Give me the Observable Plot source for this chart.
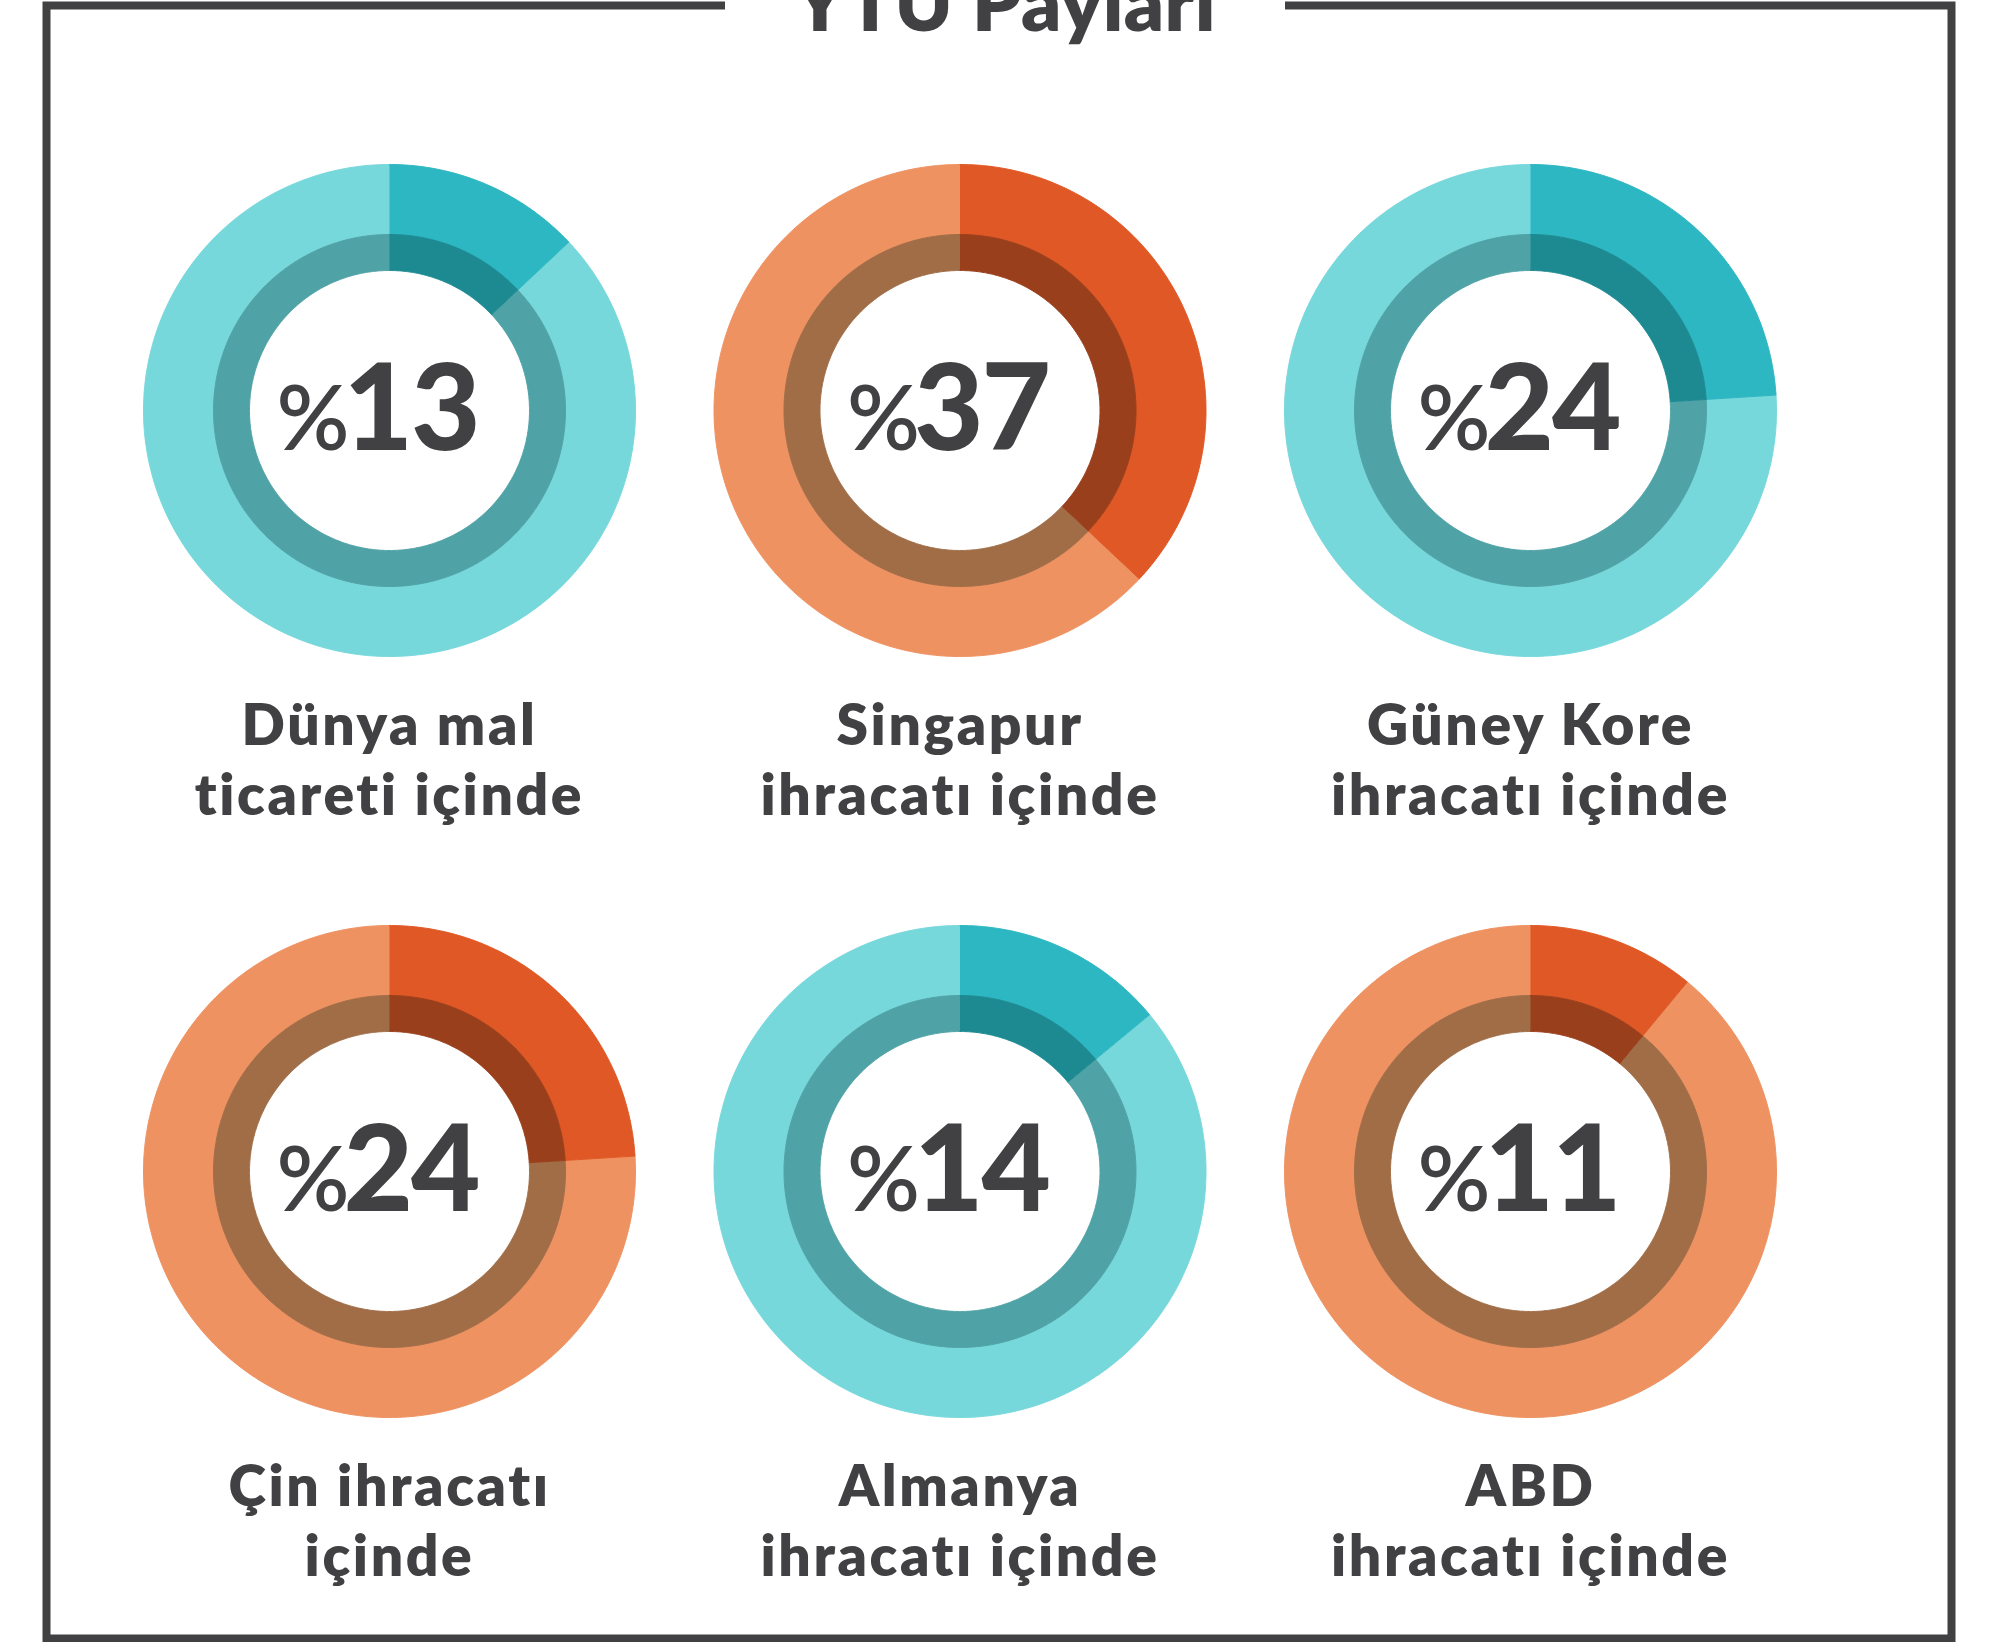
<!DOCTYPE html>
<html><head><meta charset="utf-8">
<script src="https://cdn.jsdelivr.net/npm/d3@7"></script>
<script src="https://cdn.jsdelivr.net/npm/@observablehq/plot@0.6"></script>
<style>
html,body{margin:0;padding:0;background:#fff;}
#wrap{position:relative;width:2008px;height:1642px;overflow:hidden;}
#chart{position:absolute;left:0;top:0;}
#title{position:absolute;left:725px;width:560px;top:-38px;height:78px;background:#fff;text-align:center;
  font-family:Lato,"Noto Sans",sans-serif;font-weight:800;font-size:78px;line-height:78px;color:#414143;
  letter-spacing:0.5px;white-space:nowrap;}
</style></head>
<body><div id="wrap"><div id="chart"></div><div id="title"></div></div>
<script>
// ---- data ----
const title = "YTÜ Payları";
const categories = [
  "Dünya mal\nticareti içinde",
  "Singapur\nihracatı içinde",
  "Güney Kore\nihracatı içinde",
  "Çin ihracatı\niçinde",
  "Almanya\nihracatı içinde",
  "ABD\nihracatı içinde"
];
const shares = [13, 37, 24, 24, 14, 11];

// ---- layout & style ----
const W = 2008, H = 1642;
const L = {x0: 389, y0: 410, colStep: 570.5, rowStep: 761, rOuter: 246, rMid: 176, rInner: 140};
const ink = "#414143";
const schemes = [
  {lightOuter: "#77d8dc", darkOuter: "#2db7c2", lightMid: "#4fa2a6", darkMid: "#1d8a92"},
  {lightOuter: "#ef9262", darkOuter: "#e05825", lightMid: "#a06d47", darkMid: "#9a3f1b"}
];

document.getElementById("title").textContent = title;

const items = shares.map((v, i) => ({
  v, label: categories[i],
  cx: L.x0 + (i % 3) * L.colStep,
  cy: L.y0 + Math.floor(i / 3) * L.rowStep,
  scheme: schemes[i % 2]
}));

const TAU = 2 * Math.PI;
const pts = [];
items.forEach((d, i) => {
  const a = d.v / 100 * TAU;
  const parts = [
    {key: "lightOuter", a0: a, a1: TAU, r0: L.rMid, r1: L.rOuter},
    {key: "darkOuter", a0: 0, a1: a, r0: L.rMid, r1: L.rOuter},
    {key: "lightMid", a0: a, a1: TAU, r0: L.rInner, r1: L.rMid},
    {key: "darkMid", a0: 0, a1: a, r0: L.rInner, r1: L.rMid}
  ];
  parts.forEach(p => {
    const id = i + "-" + p.key, color = d.scheme[p.key];
    const n = Math.max(2, Math.ceil((p.a1 - p.a0) / TAU * 720));
    for (let k = 0; k <= n; k++) {
      const t = p.a0 + (p.a1 - p.a0) * k / n;
      pts.push({id, color, x: d.cx + p.r1 * Math.sin(t), y: d.cy - p.r1 * Math.cos(t)});
    }
    for (let k = n; k >= 0; k--) {
      const t = p.a0 + (p.a1 - p.a0) * k / n;
      pts.push({id, color, x: d.cx + p.r0 * Math.sin(t), y: d.cy - p.r0 * Math.cos(t)});
    }
  });
});

const chart = Plot.plot({
  width: W, height: H, margin: 0,
  style: {background: "#fff", fontFamily: "Lato, 'Noto Sans', sans-serif"},
  x: {domain: [0, W], range: [0, W], axis: null},
  y: {domain: [0, H], range: [0, H], axis: null},
  color: {type: "identity"},
  marks: [
    Plot.frame({stroke: ink, strokeWidth: 8, insetLeft: 46, insetRight: 57, insetTop: 5, insetBottom: 4}),
    Plot.line(pts, {x: "x", y: "y", z: "id", fill: "color", stroke: "color", strokeWidth: 1, curve: "linear"}),
    Plot.text(items, {x: "cx", y: "cy", text: d => "%" + d.v, textAnchor: "middle", lineAnchor: "bottom",
      dx: -12, dy: 39, fontSize: 120, fontWeight: 900, fill: ink}),
    Plot.text(items, {x: "cx", y: "cy", text: "label", textAnchor: "middle", lineAnchor: "bottom",
      dy: 404, fontSize: 57, fontWeight: 800, lineHeight: 70 / 57, fill: ink})
  ]
});
document.getElementById("chart").appendChild(chart);

const ns = "http://www.w3.org/2000/svg";
chart.querySelectorAll("text").forEach(t => {
  const s = t.textContent;
  if (s.startsWith("%") && t.children.length === 0) {
    // percent sign smaller and lighter than the digits
    t.textContent = "";
    const a = document.createElementNS(ns, "tspan");
    a.setAttribute("font-size", 90); a.setAttribute("font-weight", 600);
    a.textContent = "%";
    const b = document.createElementNS(ns, "tspan");
    b.setAttribute("font-size", 120); b.setAttribute("font-weight", 900);
    b.setAttribute("dx", -6); b.setAttribute("letter-spacing", -2);
    b.textContent = s.slice(1);
    t.appendChild(a); t.appendChild(b);
  } else if (t.querySelector("tspan")) {
    // two-line category labels: wider tracking
    t.setAttribute("letter-spacing", "2.6px");
  }
});
</script></body></html>
